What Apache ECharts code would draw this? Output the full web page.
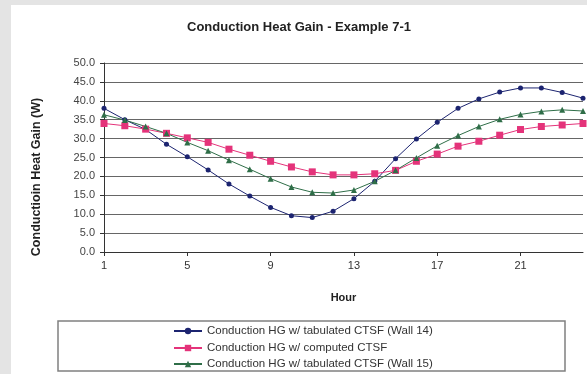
<!DOCTYPE html>
<html>
<head>
<meta charset="utf-8">
<script src="https://cdn.jsdelivr.net/npm/echarts@6/dist/echarts.min.js"></script>
<style>
  html, body { margin: 0; padding: 0; background: #e4e4e4; }
  #panel { position: absolute; left: 11px; top: 5px; width: 580px; height: 372px; background: #fff; }
  #chart { position: absolute; left: 0; top: 0; width: 587px; height: 374px; }
</style>
</head>
<body>
<div id="panel"></div>
<div id="chart"></div>
<script>
// hours 1..24
var hours = [];
for (var h = 1; h <= 24; h++) hours.push(String(h));

// conduction heat gain, W
var wall14 = [38.0, 35.0, 32.4, 28.5, 25.2, 21.7, 18.0, 14.8, 11.8, 9.6, 9.1, 10.8,
              14.1, 18.7, 24.7, 29.9, 34.3, 38.0, 40.5, 42.3, 43.4, 43.4, 42.2, 40.7];
var computed = [34.0, 33.4, 32.5, 31.4, 30.2, 29.0, 27.2, 25.6, 24.0, 22.5, 21.2, 20.4,
                20.4, 20.7, 21.6, 24.0, 25.9, 28.0, 29.3, 30.9, 32.4, 33.2, 33.6, 34.0];
var wall15 = [36.3, 34.9, 33.2, 31.4, 29.0, 26.8, 24.3, 21.9, 19.4, 17.2, 15.8, 15.6,
              16.4, 18.7, 21.6, 24.9, 28.1, 30.8, 33.2, 35.1, 36.4, 37.2, 37.6, 37.3];

var names = [
    'Conduction HG w/ tabulated CTSF (Wall 14)',
    'Conduction HG w/ computed CTSF',
    'Conduction HG w/ tabulated CTSF (Wall 15)'
];
var colors = ['#1c2470', '#e4337a', '#2f6e48'];
var legendTops = [320, 337, 353];

var chart = echarts.init(document.getElementById('chart'));

function mkSeries(i, data, symbol, size) {
    return {
        name: names[i],
        type: 'line',
        data: data,
        symbol: symbol,
        symbolSize: size,
        showSymbol: true,
        color: colors[i],
        lineStyle: { width: 1, color: colors[i] },
        itemStyle: { color: colors[i] }
    };
}

// one legend per row so the three lines stack like the original box
var legends = [];
for (var i = 0; i < names.length; i++) {
    legends.push({
        left: 168,
        top: legendTops[i],
        itemWidth: 28,
        itemHeight: 8,
        itemGap: 0,
        textStyle: { fontSize: 11.5, color: '#333' },
        data: [names[i]]
    });
}

chart.setOption({
    animation: false,
    textStyle: { fontFamily: 'Liberation Sans, Arial, sans-serif' },
    title: {
        text: 'Conduction Heat Gain - Example 7-1',
        left: 294,
        textAlign: 'center',
        top: 16,
        textStyle: { fontSize: 13, fontWeight: 'bold', color: '#222' }
    },
    grid: { left: 104, right: 4, top: 63, bottom: 122 },
    xAxis: {
        type: 'category',
        data: hours,
        boundaryGap: false,
        name: 'Hour',
        nameLocation: 'middle',
        nameGap: 40,
        nameTextStyle: { fontSize: 11, fontWeight: 'bold', color: '#222' },
        axisLine: { lineStyle: { color: '#333', width: 1 } },
        axisTick: { interval: 3, length: 4, lineStyle: { color: '#333' } },
        axisLabel: { interval: 3, fontSize: 11, color: '#333', margin: 8 }
    },
    yAxis: {
        type: 'value',
        min: 0,
        max: 50,
        interval: 5,
        axisLine: { show: true, lineStyle: { color: '#333', width: 1 } },
        axisTick: { show: true, length: 4, lineStyle: { color: '#333' } },
        axisLabel: {
            fontSize: 11, color: '#444', margin: 9,
            formatter: function (v) { return v.toFixed(1); }
        },
        splitLine: { lineStyle: { color: '#666', width: 1 } }
    },
    legend: legends,
    graphic: [{
        type: 'rect',
        shape: { x: 58, y: 321, width: 507, height: 50 },
        style: { fill: 'none', stroke: '#808080', lineWidth: 1.5 }
    }, {
        type: 'text',
        x: 37,
        y: 177,
        rotation: Math.PI / 2,
        style: {
            text: 'Conductioin Heat Gain (W)',
            font: 'bold 12.5px "Liberation Sans", Arial, sans-serif',
            fill: '#222',
            align: 'center',
            verticalAlign: 'middle'
        }
    }],
    series: [
        mkSeries(0, wall14, 'circle', 5),
        mkSeries(1, computed, 'rect', 7),
        mkSeries(2, wall15, 'triangle', 6)
    ]
});
</script>
</body>
</html>
